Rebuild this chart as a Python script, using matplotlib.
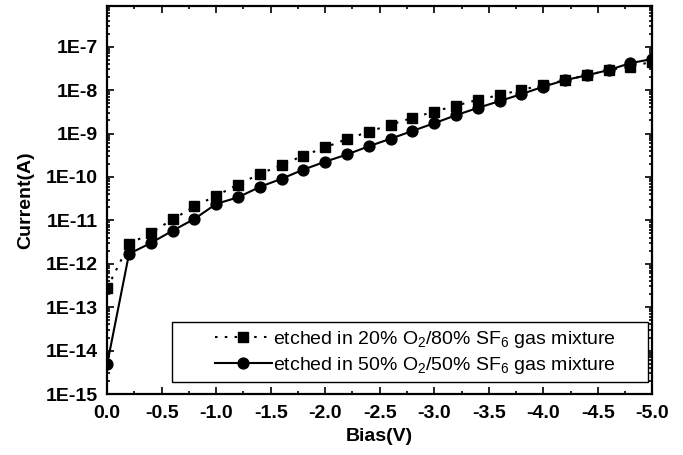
import matplotlib
matplotlib.use('Agg')
import matplotlib.pyplot as plt
from matplotlib.ticker import FixedLocator, FuncFormatter, LogLocator, MultipleLocator
from matplotlib.patches import Rectangle
import numpy as np

plt.rcParams['font.family'] = ['Liberation Sans', 'DejaVu Sans']
plt.rcParams['mathtext.fontset'] = 'custom'
plt.rcParams['mathtext.rm'] = 'Liberation Sans'
plt.rcParams['mathtext.it'] = 'Liberation Sans'

# ── Data ───────────────────────────────────────────────────────────────
bias = [0.0, -0.2, -0.4, -0.6, -0.8, -1.0, -1.2, -1.4, -1.6, -1.8, -2.0, -2.2, -2.4,
        -2.6, -2.8, -3.0, -3.2, -3.4, -3.6, -3.8, -4.0, -4.2, -4.4, -4.6, -4.8, -5.0]

# etched in 20% O2 / 80% SF6 (squares, dotted)
cur_20 = [2.8e-13, 2.8e-12, 5.2e-12, 1.05e-11, 2.1e-11, 3.7e-11, 6.7e-11, 1.17e-10,
          1.9e-10, 3.1e-10, 4.8e-10, 7.5e-10, 1.1e-9, 1.6e-9, 2.3e-9, 3.2e-9, 4.4e-9,
          6.0e-9, 7.7e-9, 1.02e-8, 1.3e-8, 1.7e-8, 2.2e-8, 2.9e-8, 3.5e-8, 4.5e-8]

# etched in 50% O2 / 50% SF6 (circles, solid)
cur_50 = [5e-15, 1.7e-12, 3.0e-12, 5.8e-12, 1.08e-11, 2.4e-11, 3.4e-11, 5.9e-11,
          9.1e-11, 1.48e-10, 2.25e-10, 3.3e-10, 5.1e-10, 7.6e-10, 1.15e-9, 1.73e-9,
          2.65e-9, 3.9e-9, 5.6e-9, 8.1e-9, 1.2e-8, 1.7e-8, 2.2e-8, 2.9e-8, 4.2e-8, 5.2e-8]

labels = [r"etched in 20% O$_2$/80% SF$_6$ gas mixture",
          r"etched in 50% O$_2$/50% SF$_6$ gas mixture"]

y_major = [1e-15, 1e-14, 1e-13, 1e-12, 1e-11, 1e-10, 1e-9, 1e-8, 1e-7]
x_major = [0.0, -0.5, -1.0, -1.5, -2.0, -2.5, -3.0, -3.5, -4.0, -4.5, -5.0]

# ── Plot ───────────────────────────────────────────────────────────────
fig = plt.figure(figsize=(6.83, 4.55), dpi=100)
ax = fig.add_axes([0.157, 0.134, 0.798, 0.853])

ax.plot(bias, cur_20, color='black', linestyle=(0, (1.2, 3.5)), linewidth=1.5,
        marker='s', markersize=7, label=labels[0])
ax.plot(bias, cur_50, color='black', linestyle='-', linewidth=1.5,
        marker='o', markersize=7.8, label=labels[1])

ax.set_yscale('log')
ax.set_xlim(0, -5.0)
ax.set_ylim(1e-15, 10 ** -6.06)

ax.yaxis.set_major_locator(FixedLocator(y_major))
ax.yaxis.set_minor_locator(LogLocator(base=10, subs=np.arange(2, 10), numticks=20))
ax.yaxis.set_major_formatter(FuncFormatter(lambda v, p: f"1E{int(round(np.log10(v)))}"))
ax.xaxis.set_major_locator(FixedLocator(x_major))
ax.xaxis.set_minor_locator(MultipleLocator(0.25))
ax.xaxis.set_major_formatter(FuncFormatter(lambda v, p: f"{v:.1f}"))

ax.tick_params(which='both', direction='in', top=True, right=True, width=1.2)
ax.tick_params(which='major', length=5)
ax.tick_params(which='minor', length=2.5)
ax.tick_params(axis='y', which='major', labelsize=14, pad=7)
ax.tick_params(axis='x', which='major', labelsize=14, pad=8)
for lab in ax.get_xticklabels() + ax.get_yticklabels():
    lab.set_fontweight('bold')
for s in ax.spines.values():
    s.set_linewidth(1.6)

ax.set_xlabel("Bias(V)", fontsize=14, fontweight='bold', labelpad=4)
ax.set_ylabel("Current(A)", fontsize=14, fontweight='bold', labelpad=8)

# legend frame drawn separately (wide side padding as in the original)
ax.add_patch(Rectangle((0.119, 0.031), 0.874, 0.155, transform=ax.transAxes,
                       fill=True, facecolor='white', edgecolor='black', linewidth=1.0,
                       zorder=4))
leg = ax.legend(loc='center right', bbox_to_anchor=(0.934, 0.107), frameon=False,
                fontsize=14, handlelength=2.9, handletextpad=0.1, labelspacing=0.25,
                borderpad=0, borderaxespad=0)
leg.set_zorder(5)

plt.savefig("out.png", dpi=100)
